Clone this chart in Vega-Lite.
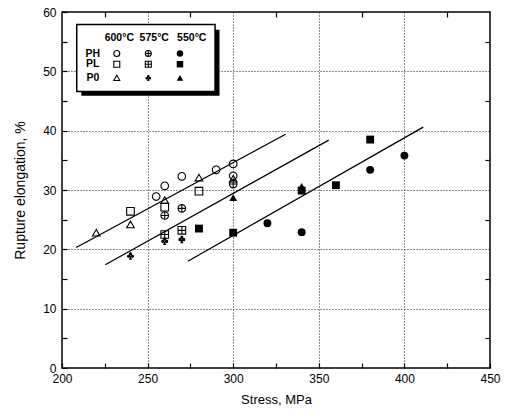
{
  "$schema": "https://vega.github.io/schema/vega-lite/v6.json",
  "width": 428,
  "height": 356,
  "autosize": {"type": "none"},
  "padding": {"left": 62, "top": 12, "right": 17, "bottom": 47},
  "background": "white",
  "config": {
    "view": {"stroke": "black", "strokeWidth": 1.5},
    "font": "Liberation Sans",
    "axis": {"labelFont": "Liberation Sans", "titleFont": "Liberation Sans", "labelColor": "black", "titleColor": "black", "labelFontSize": 12, "titleFontSize": 13, "titleFontWeight": "normal", "domain": false, "tickColor": "black", "tickSize": -5, "tickWidth": 1.2, "labelPadding": 10, "gridColor": "#222", "gridDash": [1, 2], "gridWidth": 1}
  },
  "datasets": {
    "pts": [
      {"stress": 255, "elong": 28.9, "g": "600PH"},
      {"stress": 260, "elong": 30.7, "g": "600PH"},
      {"stress": 270, "elong": 32.3, "g": "600PH"},
      {"stress": 290, "elong": 33.4, "g": "600PH"},
      {"stress": 300, "elong": 34.4, "g": "600PH"},
      {"stress": 300, "elong": 32.4, "g": "600PH"},
      {"stress": 240, "elong": 26.4, "g": "600PL"},
      {"stress": 260, "elong": 27.1, "g": "600PL"},
      {"stress": 280, "elong": 29.8, "g": "600PL"},
      {"stress": 220, "elong": 22.8, "g": "600P0"},
      {"stress": 240, "elong": 24.2, "g": "600P0"},
      {"stress": 260, "elong": 28.3, "g": "600P0"},
      {"stress": 280, "elong": 32.1, "g": "600P0"},
      {"stress": 300, "elong": 31.9, "g": "600P0"},
      {"stress": 260, "elong": 25.7, "g": "575PH"},
      {"stress": 270, "elong": 26.9, "g": "575PH"},
      {"stress": 300, "elong": 31.0, "g": "575PH"},
      {"stress": 260, "elong": 22.5, "g": "575PL"},
      {"stress": 270, "elong": 23.2, "g": "575PL"},
      {"stress": 240, "elong": 18.9, "g": "575P0"},
      {"stress": 260, "elong": 21.4, "g": "575P0"},
      {"stress": 270, "elong": 21.7, "g": "575P0"},
      {"stress": 320, "elong": 24.4, "g": "550PH"},
      {"stress": 340, "elong": 22.9, "g": "550PH"},
      {"stress": 380, "elong": 33.4, "g": "550PH"},
      {"stress": 400, "elong": 35.8, "g": "550PH"},
      {"stress": 280, "elong": 23.5, "g": "550PL"},
      {"stress": 300, "elong": 22.8, "g": "550PL"},
      {"stress": 340, "elong": 29.9, "g": "550PL"},
      {"stress": 360, "elong": 30.8, "g": "550PL"},
      {"stress": 380, "elong": 38.5, "g": "550PL"},
      {"stress": 300, "elong": 28.7, "g": "550P0"},
      {"stress": 340, "elong": 30.6, "g": "550P0"}
    ],
    "fits": [
      {"line": "600", "stress": 208.3, "elong": 20.3},
      {"line": "600", "stress": 330.6, "elong": 39.4},
      {"line": "575", "stress": 225.3, "elong": 17.4},
      {"line": "575", "stress": 355.8, "elong": 38.4},
      {"line": "550", "stress": 273.5, "elong": 18.0},
      {"line": "550", "stress": 411.0, "elong": 40.6}
    ],
    "legsym": [
      {"lx": 232, "ly": 53.0, "g": "600PH"},
      {"lx": 250.4, "ly": 53.0, "g": "575PH"},
      {"lx": 268.9, "ly": 53.0, "g": "550PH"},
      {"lx": 232, "ly": 51.2, "g": "600PL"},
      {"lx": 250.4, "ly": 51.2, "g": "575PL"},
      {"lx": 268.9, "ly": 51.2, "g": "550PL"},
      {"lx": 232, "ly": 48.9, "g": "600P0"},
      {"lx": 250.4, "ly": 48.9, "g": "575P0"},
      {"lx": 268.9, "ly": 48.9, "g": "550P0"}
    ],
    "legtxt": [
      {"lx": 233.5, "ly": 55.6, "t": "600°C"},
      {"lx": 253.9, "ly": 55.6, "t": "575°C"},
      {"lx": 275.8, "ly": 55.6, "t": "550°C"},
      {"lx": 218, "ly": 53.0, "t": "PH"},
      {"lx": 218, "ly": 51.2, "t": "PL"},
      {"lx": 218, "ly": 48.9, "t": "P0"}
    ],
    "box": [{"bx1": 208.6, "bx2": 289.4, "by1": 46.6, "by2": 57.9, "sx1": 211.3, "sx2": 292, "sy1": 45.9, "sy2": 57.0}]
  },
  "resolve": {"axis": {"x": "independent", "y": "independent"}},
  "layer": [
    {
      "data": {"name": "pts"},
      "transform": [{"filter": "indexof(['600PH','600PL','600P0','575PH','575PL'], datum.g) >= 0"}],
      "mark": {"type": "point", "filled": false, "stroke": "black", "strokeWidth": 1.1, "size": 58, "opacity": 1},
      "encoding": {
        "x": {"field": "stress", "type": "quantitative", "scale": {"domain": [200, 450], "nice": false, "zero": false},
          "axis": {"title": "Stress, MPa", "values": [200, 225, 250, 275, 300, 325, 350, 375, 400, 425, 450], "labelExpr": "datum.value % 50 === 0 ? datum.label : ''", "grid": true, "gridOpacity": {"condition": {"test": "datum.value % 50 === 0 && datum.value > 200 && datum.value < 450", "value": 1}, "value": 0}, "titlePadding": 9, "labelFlush": false}},
        "y": {"field": "elong", "type": "quantitative", "scale": {"domain": [0, 60], "nice": false},
          "axis": {"title": "Rupture elongation, %", "titleFontSize": 14, "values": [0, 5, 10, 15, 20, 25, 30, 35, 40, 45, 50, 55, 60], "labelExpr": "datum.value % 10 === 0 ? datum.label : ''", "grid": true, "gridOpacity": {"condition": {"test": "datum.value % 10 === 0 && datum.value > 0 && datum.value < 60", "value": 1}, "value": 0}, "titlePadding": 15, "labelPadding": 11}},
        "shape": {"field": "g", "type": "nominal", "legend": null,
          "scale": {"domain": ["600PH", "575PH", "550PH", "600PL", "575PL", "550PL", "600P0", "575P0", "550P0"],
            "range": ["circle", "M-1,0A1,1 0 1,1 1,0A1,1 0 1,1 -1,0ZM-1,0L1,0M0,-1L0,1", "circle", "square", "M-1,-1L1,-1L1,1L-1,1ZM-1,0L1,0M0,-1L0,1", "square", "triangle-up", "M-0.4,-0.5A0.4,0.4 0 1,0 0.4,-0.5A0.4,0.4 0 1,0 -0.4,-0.5ZM-0.9,0.1A0.4,0.4 0 1,0 -0.1,0.1A0.4,0.4 0 1,0 -0.9,0.1ZM0.1,0.1A0.4,0.4 0 1,0 0.9,0.1A0.4,0.4 0 1,0 0.1,0.1ZM0,-0.1L-0.4,1L0.4,1Z", "triangle-up"]}}
      }
    },
    {
      "data": {"name": "pts"},
      "transform": [{"filter": "indexof(['550PH','550PL','550P0','575P0'], datum.g) >= 0"}],
      "mark": {"type": "point", "filled": true, "fill": "black", "strokeWidth": 0, "size": 62, "opacity": 1},
      "encoding": {
        "x": {"field": "stress", "type": "quantitative", "axis": null},
        "y": {"field": "elong", "type": "quantitative", "axis": null},
        "shape": {"field": "g", "type": "nominal", "legend": null}
      }
    },
    {
      "data": {"name": "fits"},
      "mark": {"type": "line", "color": "black", "strokeWidth": 1.3},
      "encoding": {
        "x": {"field": "stress", "type": "quantitative",
          "axis": {"orient": "top", "title": null, "labels": false, "grid": false, "values": [225, 275, 325, 375, 425]}},
        "y": {"field": "elong", "type": "quantitative",
          "axis": {"orient": "right", "title": null, "labels": false, "grid": false, "values": [5, 15, 25, 35, 45, 55]}},
        "detail": {"field": "line", "type": "nominal"}
      }
    },
    {
      "data": {"name": "box"},
      "mark": {"type": "rect", "fill": "black"},
      "encoding": {
        "x": {"field": "sx1", "type": "quantitative", "axis": null},
        "x2": {"field": "sx2"},
        "y": {"field": "sy1", "type": "quantitative", "axis": null},
        "y2": {"field": "sy2"}
      }
    },
    {
      "data": {"name": "box"},
      "mark": {"type": "rect", "fill": "white", "stroke": "black", "strokeWidth": 1.5},
      "encoding": {
        "x": {"field": "bx1", "type": "quantitative", "axis": null},
        "x2": {"field": "bx2"},
        "y": {"field": "by1", "type": "quantitative", "axis": null},
        "y2": {"field": "by2"}
      }
    },
    {
      "data": {"name": "legsym"},
      "transform": [{"filter": "indexof(['600PH','600PL','600P0','575PH','575PL'], datum.g) >= 0"}],
      "mark": {"type": "point", "filled": false, "stroke": "black", "strokeWidth": 1.1, "size": 36, "opacity": 1},
      "encoding": {
        "x": {"field": "lx", "type": "quantitative", "axis": null},
        "y": {"field": "ly", "type": "quantitative", "axis": null},
        "shape": {"field": "g", "type": "nominal", "legend": null}
      }
    },
    {
      "data": {"name": "legsym"},
      "transform": [{"filter": "indexof(['550PH','550PL','550P0','575P0'], datum.g) >= 0"}],
      "mark": {"type": "point", "filled": true, "fill": "black", "strokeWidth": 0, "size": 42, "opacity": 1},
      "encoding": {
        "x": {"field": "lx", "type": "quantitative", "axis": null},
        "y": {"field": "ly", "type": "quantitative", "axis": null},
        "shape": {"field": "g", "type": "nominal", "legend": null}
      }
    },
    {
      "data": {"name": "legtxt"},
      "mark": {"type": "text", "font": "Liberation Sans", "fontSize": 10.5, "fontWeight": "bold", "color": "black", "align": "center", "baseline": "middle"},
      "encoding": {
        "x": {"field": "lx", "type": "quantitative", "axis": null},
        "y": {"field": "ly", "type": "quantitative", "axis": null},
        "text": {"field": "t", "type": "nominal"}
      }
    }
  ]
}
